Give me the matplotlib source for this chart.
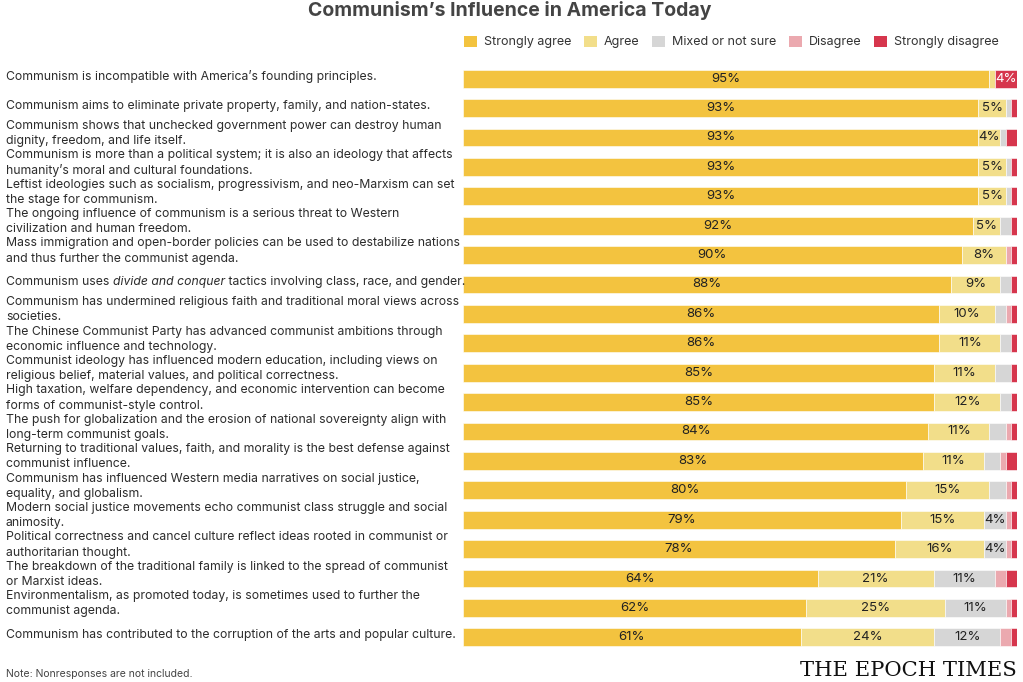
import matplotlib
matplotlib.use("Agg")
import matplotlib.pyplot as plt
import matplotlib.transforms as mtransforms
import numpy as np
from matplotlib.patches import Patch

statements = [
    "Communism is incompatible with America\u2019s founding principles.",
    "Communism aims to eliminate private property, family, and nation-states.",
    "Communism shows that unchecked government power can destroy human\ndignity, freedom, and life itself.",
    "Communism is more than a political system; it is also an ideology that affects\nhumanity\u2019s moral and cultural foundations.",
    "Leftist ideologies such as socialism, progressivism, and neo-Marxism can set\nthe stage for communism.",
    "The ongoing influence of communism is a serious threat to Western\ncivilization and human freedom.",
    "Mass immigration and open-border policies can be used to destabilize nations\nand thus further the communist agenda.",
    "Communism uses |divide and conquer| tactics involving class, race, and gender.",
    "Communism has undermined religious faith and traditional moral views across\nsocieties.",
    "The Chinese Communist Party has advanced communist ambitions through\neconomic influence and technology.",
    "Communist ideology has influenced modern education, including views on\nreligious belief, material values, and political correctness.",
    "High taxation, welfare dependency, and economic intervention can become\nforms of communist-style control.",
    "The push for globalization and the erosion of national sovereignty align with\nlong-term communist goals.",
    "Returning to traditional values, faith, and morality is the best defense against\ncommunist influence.",
    "Communism has influenced Western media narratives on social justice,\nequality, and globalism.",
    "Modern social justice movements echo communist class struggle and social\nanimosity.",
    "Political correctness and cancel culture reflect ideas rooted in communist or\nauthoritarian thought.",
    "The breakdown of the traditional family is linked to the spread of communist\nor Marxist ideas.",
    "Environmentalism, as promoted today, is sometimes used to further the\ncommunist agenda.",
    "Communism has contributed to the corruption of the arts and popular culture.",
]

categories = ["Strongly agree", "Agree", "Mixed or not sure", "Disagree", "Strongly disagree"]

strongly_agree = [95, 93, 93, 93, 93, 92, 90, 88, 86, 86, 85, 85, 84, 83, 80, 79, 78, 64, 62, 61]
agree          = [1, 5, 4, 5, 5, 5, 8, 9, 10, 11, 11, 12, 11, 11, 15, 15, 16, 21, 25, 24]
mixed          = [0, 1, 1, 1, 1, 2, 0, 2, 2, 2, 3, 2, 3, 3, 3, 4, 4, 11, 11, 12]
disagree       = [0, 0, 0, 0, 0, 0, 1, 0, 1, 0, 0, 0, 1, 1, 1, 1, 1, 2, 1, 2]
strongly_dis   = [4, 1, 2, 1, 1, 1, 1, 1, 1, 1, 1, 1, 1, 2, 1, 1, 1, 2, 1, 1]

colors = ["#F3C33F", "#F2DE8A", "#D6D6D6", "#EBA9AF", "#D6364D"]
label_colors = ["#222222", "#222222", "#222222", "#222222", "#FFFFFF"]

FONT = "Inter"
plt.rcParams["font.family"] = [FONT, "DejaVu Sans"]

fig = plt.figure(figsize=(10.23, 6.82), dpi=100)
ax = fig.add_axes([463 / 1023, (682 - 652) / 682, (1017 - 463) / 1023, 588 / 682])

series = [strongly_agree, agree, mixed, disagree, strongly_dis]
n = len(statements)
y = np.arange(n)
left = np.zeros(n)
for vals, col, lc in zip(series, colors, label_colors):
    vals = np.array(vals, dtype=float)
    bars = ax.barh(y, vals, left=left, height=0.6, color=col, edgecolor="white", linewidth=0.4)
    for b, v in zip(bars, vals):
        if v >= 4:
            ax.text(b.get_x() + b.get_width() / 2, b.get_y() + b.get_height() / 2, f"{int(v)}%",
                    ha="center", va="center", fontsize=9.5, color=lc)
    left += vals

ax.set_xlim(0, 100)
ax.set_ylim(n - 0.5, -0.5)
ax.axis("off")

# statement labels
fig.canvas.draw()
renderer = fig.canvas.get_renderer()
LBL = 8.8
TXT = "#2c2c2c"
for i, s in enumerate(statements):
    ypos = i - (0.14 if "\n" in s else 0.07)
    disp_y = ax.transData.transform((0, ypos))[1]
    if "|" in s:
        parts = s.split("|")
        xpix = 6
        for k, p in enumerate(parts):
            t = fig.text(0, 0, p, fontsize=LBL, color=TXT, va="center", ha="left",
                         style="italic" if k == 1 else "normal",
                         transform=mtransforms.IdentityTransform())
            t.set_position((xpix, disp_y))
            bb = t.get_window_extent(renderer)
            xpix = bb.x1
    else:
        fig.text(6 / 1023, disp_y / 682, s, fontsize=LBL, color=TXT, va="center", ha="left",
                 linespacing=1.35)

fig.text(510 / 1023, 1 - 10 / 682, "Communism\u2019s Influence in America Today", fontsize=14,
         fontweight="bold", color="#444444", ha="center", va="center")

handles = [Patch(facecolor=c, edgecolor="none", label=l) for c, l in zip(colors, categories)]
fig.legend(handles=handles, loc="center left", bbox_to_anchor=(453 / 1023, 1 - 42 / 682), ncol=5,
           frameon=False, fontsize=9, handlelength=1.0, handleheight=1.0, handletextpad=0.6,
           columnspacing=1.0, labelcolor="#333333")

fig.text(6 / 1023, 1 - 674 / 682, "Note: Nonresponses are not included.", fontsize=7.5,
         color="#444444", ha="left", va="center")
fig.text(1017 / 1023, 1 - 671 / 682, "THE EPOCH TIMES", fontsize=15.2, family="DejaVu Serif",
         color="#111111", ha="right", va="center")

fig.savefig("out.png", dpi=100, facecolor="white")
